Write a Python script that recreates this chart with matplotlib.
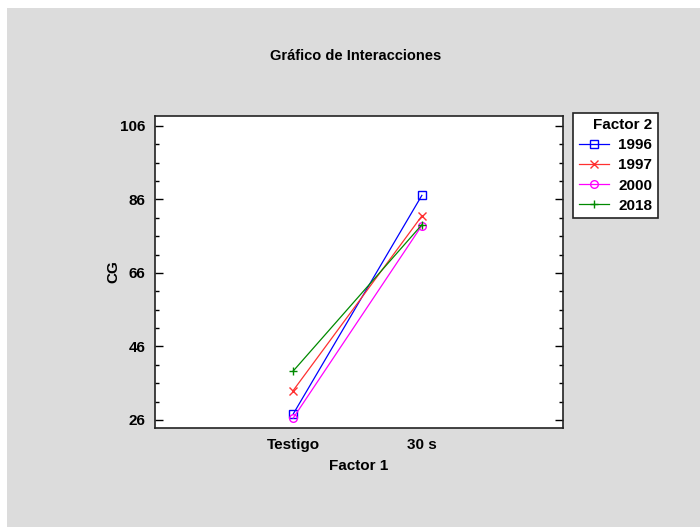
import matplotlib
matplotlib.use("Agg")
import matplotlib.pyplot as plt
from matplotlib.patches import Rectangle

plt.rcParams["font.family"] = ["Liberation Sans Narrow", "Liberation Sans", "DejaVu Sans"]

# data
levels_f1 = ["Testigo", "30 s"]
years = ["1996", "1997", "2000", "2018"]
cg_1996 = [27.6, 87.1]
cg_1997 = [34.0, 81.5]
cg_2000 = [26.5, 78.9]
cg_2018 = [39.3, 79.1]

series = [cg_1996, cg_1997, cg_2000, cg_2018]
colors = ["#0000ff", "#ff3030", "#ff00ff", "#008a00"]
markers = ["s", "x", "o", "+"]

fig = plt.figure(figsize=(7, 5.29), dpi=100)
fig.patch.set_facecolor("white")
# grey panel behind everything
fig.patches.append(Rectangle((7 / 700, 2 / 529), 693 / 700, 519 / 529,
                             transform=fig.transFigure, facecolor="#dcdcdc",
                             edgecolor="none", zorder=-10))

ax = fig.add_axes([155 / 700, 101 / 529, 408 / 700, 312 / 529])
ax.set_facecolor("white")

xpos = [1, 2]
for vals, yr, c, m in zip(series, years, colors, markers):
    ax.plot(xpos, vals, color=c, lw=0.9, marker=m, markersize=5.5,
            markerfacecolor="none", markeredgecolor=c, markeredgewidth=1.0,
            label=yr)

ax.set_xlim(-0.074, 3.097)
ax.set_ylim(23.8, 108.7)
ax.set_xticks(xpos)
ax.set_xticklabels(levels_f1)
ax.set_yticks([26, 46, 66, 86, 106])
ax.yaxis.set_minor_locator(plt.FixedLocator([31, 36, 41, 51, 56, 61, 71, 76, 81, 91, 96, 101]))

ax.tick_params(axis="y", which="major", direction="in", length=6, width=1,
               right=True, labelsize=11, pad=7)
ax.tick_params(axis="y", which="minor", direction="in", length=3, width=1, right=True)
ax.tick_params(axis="x", length=0, labelsize=11, pad=7)
for lab in ax.get_xticklabels() + ax.get_yticklabels():
    lab.set_fontweight("bold")
for s in ax.spines.values():
    s.set_linewidth(1.2)
    s.set_color("#222222")

ax.set_xlabel("Factor 1", fontsize=11, fontweight="bold", labelpad=5)
ax.set_ylabel("CG", fontsize=11, fontweight="bold", labelpad=0)

fig.text(356 / 700, 1 - 56 / 529, "Gráfico de Interacciones", ha="center", va="center",
         fontsize=10.5, fontweight="bold")

leg = ax.legend(title="Factor 2", loc="upper left", bbox_to_anchor=(1.025, 1.01),
                frameon=True, fancybox=False, edgecolor="#222222", facecolor="white",
                framealpha=1, fontsize=11, title_fontsize=11, handlelength=2.0,
                handletextpad=0.6, borderpad=0.35, labelspacing=0.4, borderaxespad=0)
leg.get_frame().set_linewidth(1.2)
leg._legend_box.align = "right"
leg.get_title().set_fontweight("bold")
for t in leg.get_texts():
    t.set_fontweight("bold")

fig.savefig("out.png", dpi=100)
